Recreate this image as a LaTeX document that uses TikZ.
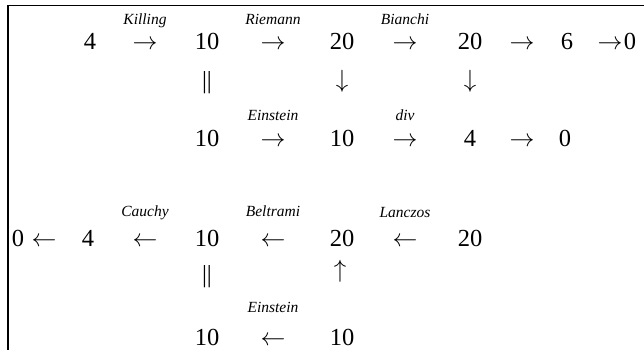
\documentclass[tikz,border=0pt]{standalone}
\usepackage{fontspec}
\setmainfont{Liberation Serif}
\tikzset{
  numNode/.style={font=\fontsize{24.5}{26}\selectfont, inner sep=0pt, anchor=base},
  arrNode/.style={font=\fontsize{24.5}{26}\selectfont, inner sep=0pt, anchor=base},
  vertNode/.style={font=\fontsize{24.5}{26}\selectfont, inner sep=0pt},
  mapLabel/.style={font=\fontsize{15.5}{17}\selectfont\itshape, inner sep=0pt, anchor=base},
  frameLine/.style={line width=1.5pt, color=black},
}
\begin{document}
\begin{tikzpicture}[x=1pt,y=-1pt]
  \useasboundingbox (0,0) rectangle (644,350);

  % frame
  \draw[frameLine] (8,350) -- (8,5.5) -- (644,5.5);

  % first sequence
  \node[numNode] (topFour) at (90,50) {4};
  \node[arrNode] (killArr) at (145,50) {$\rightarrow$};
  \node[mapLabel] (killLbl) at (145,24.5) {Killing};
  \node[numNode] (topTen) at (207,50) {10};
  \node[arrNode] (riemArr) at (273,50) {$\rightarrow$};
  \node[mapLabel] (riemLbl) at (273,24.5) {Riemann};
  \node[numNode] (topTwenty) at (342,50) {20};
  \node[arrNode] (bianArr) at (405,50) {$\rightarrow$};
  \node[mapLabel] (bianLbl) at (405,24.5) {Bianchi};
  \node[numNode] (topTwentyB) at (470,50) {20};
  \node[arrNode] (sixArr) at (522,50) {$\rightarrow$};
  \node[numNode] (topSix) at (567,50) {6};
  \node[arrNode] (endArr) at (610,50) {$\rightarrow$};
  \node[numNode] (topZero) at (630,50) {0};

  \node[vertNode] (eqA) at (207,83) {||};
  \node[vertNode] (downA) at (342,81) {$\downarrow$};
  \node[vertNode] (downB) at (470,81) {$\downarrow$};

  \node[numNode] (midTen) at (207,146.5) {10};
  \node[arrNode] (einArr) at (273,146.5) {$\rightarrow$};
  \node[mapLabel] (einLbl) at (273,121) {Einstein};
  \node[numNode] (midTenB) at (342,146.5) {10};
  \node[arrNode] (divArr) at (405,146.5) {$\rightarrow$};
  \node[mapLabel] (divLbl) at (405,121) {div};
  \node[numNode] (midFour) at (470,146.5) {4};
  \node[arrNode] (midArr) at (522,146.5) {$\rightarrow$};
  \node[numNode] (midZero) at (565,146.5) {0};

  % dual sequence
  \node[numNode] (lowZero) at (18,246) {0};
  \node[arrNode] (startArr) at (44,246) {$\leftarrow$};
  \node[numNode] (lowFour) at (88,246) {4};
  \node[arrNode] (cauArr) at (145,246) {$\leftarrow$};
  \node[mapLabel] (cauLbl) at (145,216) {Cauchy};
  \node[numNode] (lowTen) at (207,246) {10};
  \node[arrNode] (belArr) at (273,246) {$\leftarrow$};
  \node[mapLabel] (belLbl) at (273,216) {Beltrami};
  \node[numNode] (lowTwenty) at (342,246) {20};
  \node[arrNode] (lanArr) at (405,246) {$\leftarrow$};
  \node[mapLabel] (lanLbl) at (405,217) {Lanczos};
  \node[numNode] (lowTwentyB) at (470,246) {20};

  \node[vertNode] (eqB) at (207,277) {||};
  \node[vertNode] (upA) at (340,271) {$\uparrow$};

  \node[numNode] (botTen) at (207,345) {10};
  \node[arrNode] (einBArr) at (273,345) {$\leftarrow$};
  \node[mapLabel] (einBLbl) at (273,312) {Einstein};
  \node[numNode] (botTenB) at (342,345) {10};
\end{tikzpicture}
\end{document}
